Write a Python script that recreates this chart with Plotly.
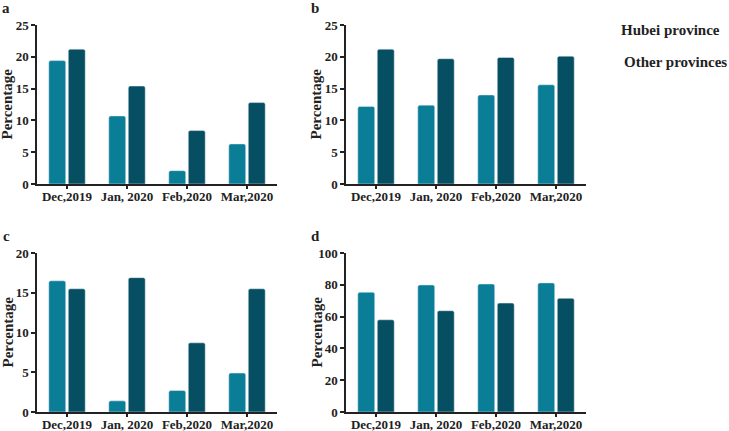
import plotly.graph_objects as go

months = ["Dec,2019", "Jan, 2020", "Feb,2020", "Mar,2020"]
series_names = ["Hubei province", "Other provinces"]

a_hubei = [19.4, 10.7, 2.1, 6.3]
a_other = [21.2, 15.4, 8.4, 12.8]
b_hubei = [12.2, 12.4, 14.0, 15.6]
b_other = [21.2, 19.7, 19.9, 20.1]
c_hubei = [16.5, 1.4, 2.7, 4.9]
c_other = [15.5, 16.9, 8.7, 15.5]
d_hubei = [75.3, 79.9, 80.5, 81.2]
d_other = [58.0, 63.7, 68.5, 71.5]

y_max = [25, 25, 20, 100]
y_dtick = [5, 5, 5, 20]
panel_letters = ["a", "b", "c", "d"]

col_hubei = "#0a7e97"
col_other = "#064e61"
FONT = "Liberation Serif"

W, H = 729, 431
fig = go.Figure()

panels = [(a_hubei, a_other), (b_hubei, b_other), (c_hubei, c_other), (d_hubei, d_other)]
# pixel boxes: (left, right, top, bottom)
boxes = [(37, 277, 25, 184), (346, 586, 25, 184), (37, 277, 253, 412), (346, 586, 253, 412)]

for i, ((h, o), (l, r, t, b)) in enumerate(zip(panels, boxes)):
    n = "" if i == 0 else str(i + 1)
    xa, ya = "x" + n, "y" + n
    fig.add_trace(go.Bar(x=months, y=h, name=series_names[0], marker_color=col_hubei,
                         marker_cornerradius=2, xaxis=xa, yaxis=ya, showlegend=False))
    fig.add_trace(go.Bar(x=months, y=o, name=series_names[1], marker_color=col_other,
                         marker_cornerradius=2, xaxis=xa, yaxis=ya, showlegend=False))
    axfont = dict(family=FONT, size=13, color="#222222", weight="bold")
    fig.layout["xaxis" + n] = dict(
        domain=[l / W, r / W], anchor=ya, range=[-0.5, 3.5], automargin=False,
        showline=True, linecolor="#222222", linewidth=1.5,
        ticks="outside", ticklen=3, tickwidth=1.5, tickcolor="#222222",
        ticklabelstandoff=-3,
        tickfont=axfont, showgrid=False, zeroline=False, fixedrange=True)
    fig.layout["yaxis" + n] = dict(
        domain=[1 - b / H, 1 - t / H], anchor=xa, range=[0, y_max[i]], dtick=y_dtick[i],
        automargin=False,
        showline=True, linecolor="#222222", linewidth=1.5,
        ticks="outside", ticklen=4, tickwidth=1.5, tickcolor="#222222",
        tickfont=axfont, showgrid=False, zeroline=False, fixedrange=True)
    # y title
    fig.add_annotation(text="<b>Percentage</b>", textangle=-90, xref="paper", yref="paper",
                       x=(l - 30) / W, y=1 - (t + b) / 2 / H, xanchor="center", yanchor="middle",
                       showarrow=False, font=dict(family=FONT, size=15, color="#222222"))
    # panel letter
    fig.add_annotation(text="<b>" + panel_letters[i] + "</b>", xref="paper", yref="paper",
                       x=(l - 31) / W, y=1 - (t - 17) / H, xanchor="center", yanchor="middle",
                       showarrow=False, font=dict(family=FONT, size=15, color="#222222"))

# legend text
fig.add_annotation(text="<b>" + series_names[0] + "</b>", xref="paper", yref="paper",
                   x=619 / W, y=1 - 30 / H, xanchor="left", yanchor="middle", showarrow=False,
                   font=dict(family=FONT, size=15, color="#222222"))
fig.add_annotation(text="<b>" + series_names[1] + "</b>", xref="paper", yref="paper",
                   x=622 / W, y=1 - 62 / H, xanchor="left", yanchor="middle", showarrow=False,
                   font=dict(family=FONT, size=15, color="#222222"))

fig.update_layout(width=W, height=H, margin=dict(l=0, r=0, t=0, b=0),
                  barmode="group", bargap=0.35, bargroupgap=0.13,
                  plot_bgcolor="white", paper_bgcolor="white")

fig.write_html("out.html", config={"displayModeBar": False},
               post_script="document.body.style.margin='0';")
